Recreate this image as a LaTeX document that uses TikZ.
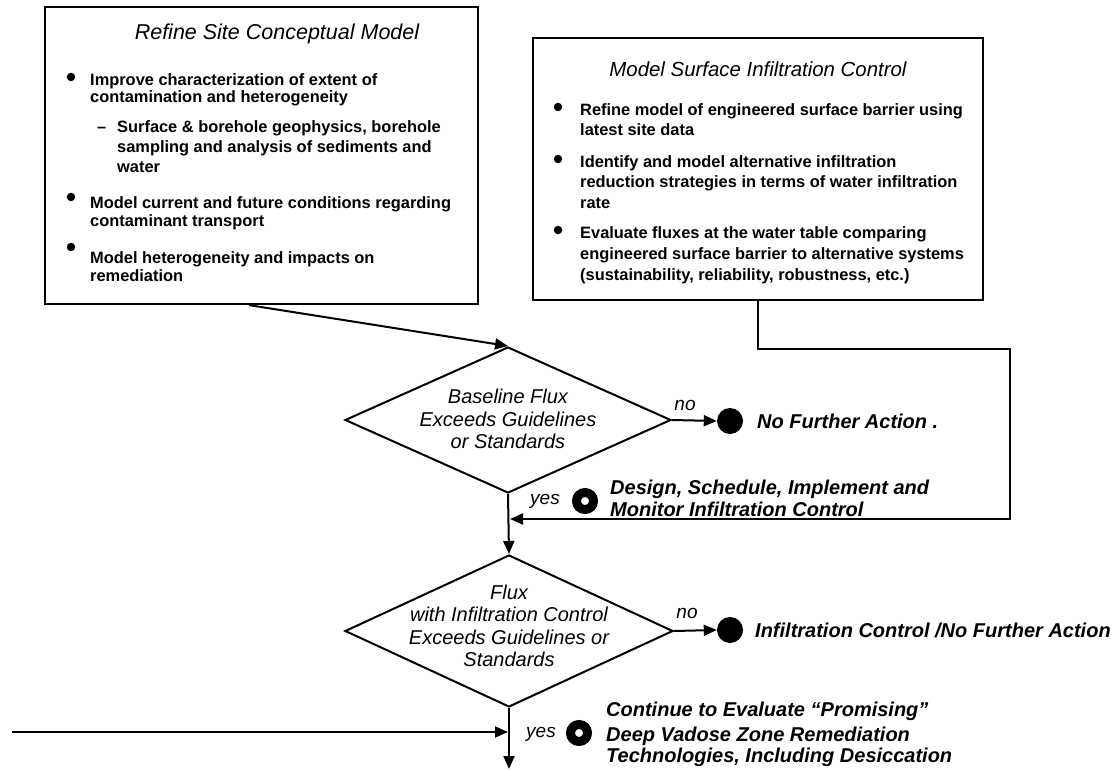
\documentclass[tikz,border=0pt]{standalone}
\usepackage{fontspec}
\setmainfont{Liberation Sans}
\usetikzlibrary{shapes.geometric,arrows.meta,calc}
\begin{document}
\begin{tikzpicture}[x=1pt,y=-1pt,
 body/.style={font=\bfseries\fontsize{16.4}{20}\selectfont, anchor=base west, inner sep=0pt},
 ttl/.style={font=\itshape\fontsize{20.4}{24}\selectfont, anchor=base, inner sep=0pt},
 box/.style={draw, line width=2.2pt, rectangle, inner sep=0pt},
 dec/.style={draw, line width=2pt, diamond, inner sep=0pt},
 dtext/.style={align=center, inner sep=0pt, font=\itshape\fontsize{20}{22.5}\selectfont},
 outtxt/.style={font=\bfseries\itshape\fontsize{20}{22.5}\selectfont, anchor=base west, inner sep=0pt},
 lab/.style={font=\itshape\fontsize{19}{22}\selectfont, inner sep=0pt},
 dot/.style={circle, fill, inner sep=0pt, minimum size=8.5pt},
 endpt/.style={circle, fill, inner sep=0pt, minimum size=26pt},
 ring/.style={circle, draw, line width=9pt, inner sep=0pt, minimum size=17pt},
 arr/.style={line width=2pt, -{Triangle[length=13pt,width=11pt]}}
]
\useasboundingbox (0,0) rectangle (1119,770);

% ---------- left box ----------
\node[box, minimum width=433pt, minimum height=297pt] (L) at (261.5,155.5) {};
\node[ttl, font=\itshape\fontsize{21.5}{25}\selectfont] (Lt) at (277,40) {Refine Site Conceptual Model};
\node[dot] (Lb1) at (71,77) {};
\node[body] (L1) at (90,86) {Improve characterization of extent of};
\node[body] (L2) at (90,103) {contamination and heterogeneity};
\node[body] (Ld) at (97,133) {--};
\node[body] (L3) at (117,133) {Surface \& borehole geophysics, borehole};
\node[body] (L4) at (117,153) {sampling and analysis of sediments and};
\node[body] (L5) at (117,173) {water};
\node[dot] (Lb2) at (71,197) {};
\node[body] (L6) at (90,209) {Model current and future conditions regarding};
\node[body] (L7) at (90,226) {contaminant transport};
\node[dot] (Lb3) at (71,247) {};
\node[body] (L8) at (90,263) {Model heterogeneity and impacts on};
\node[body] (L9) at (90,281) {remediation};

% ---------- right box ----------
\node[box, minimum width=450pt, minimum height=262pt] (R) at (758,169) {};
\node[ttl] (Rt) at (758,77) {Model Surface Infiltration Control};
\node[dot] (Rb1) at (558,107) {};
\node[body] (R1) at (580,116) {Refine model of engineered surface barrier using};
\node[body] (R2) at (580,136) {latest site data};
\node[dot] (Rb2) at (558,159) {};
\node[body] (R3) at (580,168) {Identify and model alternative infiltration};
\node[body] (R4) at (580,188) {reduction strategies in terms of water infiltration};
\node[body] (R5) at (580,209) {rate};
\node[dot] (Rb3) at (558,230) {};
\node[body] (R6) at (580,239) {Evaluate fluxes at the water table comparing};
\node[body] (R7) at (580,259) {engineered surface barrier to alternative systems};
\node[body] (R8) at (580,280) {(sustainability, reliability, robustness, etc.)};

% ---------- decisions ----------
\node[dec, minimum width=326pt, minimum height=146pt] (D1) at (508,420) {};
\node[dtext] (D1t) at (508,419) {Baseline Flux\\Exceeds Guidelines\\or Standards};
\node[dec, minimum width=328pt, minimum height=152pt] (D2) at (509,631) {};
\node[dtext] (D2t) at (509,626) {Flux\\with Infiltration Control\\Exceeds Guidelines or\\Standards};

% ---------- outcomes ----------
\node[endpt] (E1) at (730,421) {};
\node[outtxt] (E1t) at (757,428) {No Further Action .};
\node[lab] (no1) at (685,405) {no};

\node[ring] (Y1) at (585,501) {};
\node[lab] (yes1) at (545,501) {yes};
\node[outtxt] (Y1a) at (610,494) {Design, Schedule, Implement and};
\node[outtxt] (Y1b) at (610,516) {Monitor Infiltration Control};

\node[endpt] (E2) at (730,630) {};
\node[outtxt] (E2t) at (755,637) {Infiltration Control /No Further Action};
\node[lab] (no2) at (687,613) {no};

\node[ring] (Y2) at (579,733) {};
\node[lab] (yes2) at (541,734) {yes};
\node[outtxt] (Y2a) at (606,716) {Continue to Evaluate “Promising”};
\node[outtxt] (Y2b) at (606,741) {Deep Vadose Zone Remediation};
\node[outtxt] (Y2c) at (606,762) {Technologies, Including Desiccation};

% ---------- connectors ----------
\coordinate (fb1) at (1010,349);
\coordinate (j1) at (510,519);
\coordinate (inL) at (12,732);
\coordinate (j2) at (508,732);
\coordinate (bot) at (509,769);

\draw[arr] ([xshift=205pt]L.south west) -- (D1.north);
\draw[arr] (D1.east) -- (E1.west);
\draw[arr] (D1.south) -- (D2.north);
\draw[arr] (R.south) |- (fb1) |- (j1);
\draw[arr] (D2.east) -- (E2.west);
\draw[arr] (inL) -- (j2);
\draw[arr] (D2.south) -- (bot);
\end{tikzpicture}
\end{document}
